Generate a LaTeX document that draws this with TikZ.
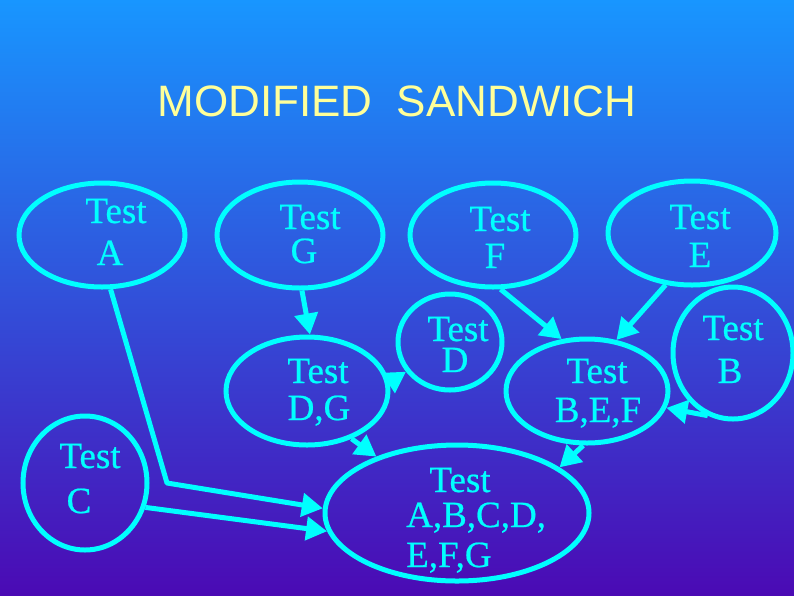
\documentclass[tikz,border=0pt]{standalone}
\usepackage{fontspec}
\setmainfont{Liberation Serif}
\newfontfamily\lblfont[FakeBold=0.6]{Liberation Serif}
\newfontfamily\titlefont{Liberation Sans}
\usetikzlibrary{shapes.geometric,arrows.meta}
\definecolor{cy}{RGB}{0,255,255}
\definecolor{ttl}{RGB}{255,255,153}
\definecolor{bgtop}{RGB}{24,150,255}
\definecolor{bgmid}{RGB}{58,95,222}
\definecolor{bgbot}{RGB}{75,10,180}
\begin{document}
\begin{tikzpicture}[x=1pt,y=-1pt,
 ov/.style={ellipse,draw=cy,line width=5pt,inner sep=0pt},
 lbl/.style={text=cy,font=\lblfont\fontsize{37}{37}\selectfont,anchor=base,inner sep=0pt},
 conn/.style={draw=cy,line width=5pt,line join=round,-{Triangle[length=21pt,width=23pt]}}]
\shade[top color=bgtop,middle color=bgmid,bottom color=bgbot] (0,0) rectangle (794,595);
\useasboundingbox (0,0) rectangle (794,595);

\node[text=ttl,font=\titlefont\fontsize{44}{44}\selectfont,anchor=base,inner sep=0pt] (title) at (397,116) {MODIFIED\ \ SANDWICH};

% ellipses
\node[ov,minimum width=166pt,minimum height=104pt] (a) at (102,235) {};
\node[ov,minimum width=166pt,minimum height=106pt] (g) at (300,235) {};
\node[ov,minimum width=166pt,minimum height=104pt] (f) at (493,235) {};
\node[ov,minimum width=168pt,minimum height=104pt] (e) at (692,233) {};
\node[ov,minimum width=104pt,minimum height=96pt] (d) at (450,342) {};
\node[ov,minimum width=162pt,minimum height=108pt] (dg) at (307,391) {};
\node[ov,minimum width=162pt,minimum height=104pt] (bef) at (587,391) {};
\node[ov,minimum width=120pt,minimum height=132pt] (b) at (733,353) {};
\node[ov,minimum width=124pt,minimum height=134pt] (c) at (85,483) {};
\node[ov,minimum width=264pt,minimum height=136pt] (all) at (457,513) {};

% labels
\node[lbl] (ta1) at (116,223) {Test};
\node[lbl] (ta2) at (110,265) {A};
\node[lbl] (tg1) at (310,229) {Test};
\node[lbl] (tg2) at (304,263) {G};
\node[lbl] (tf1) at (500,231) {Test};
\node[lbl] (tf2) at (495,268) {F};
\node[lbl] (te1) at (700,229) {Test};
\node[lbl] (te2) at (700,267) {E};
\node[lbl] (td1) at (458,341) {Test};
\node[lbl] (td2) at (455,372) {D};
\node[lbl] (tdg1) at (318,383) {Test};
\node[lbl] (tdg2) at (319,420) {D,G};
\node[lbl] (tbef1) at (597,383) {Test};
\node[lbl] (tbef2) at (598,422) {B,E,F};
\node[lbl] (tb1) at (733,340) {Test};
\node[lbl] (tb2) at (730,383) {B};
\node[lbl] (tc1) at (90,468) {Test};
\node[lbl] (tc2) at (79,513) {C};
\node[lbl] (tall1) at (460,492) {Test};
\node[lbl,anchor=base west] (tall2) at (406,527) {A,B,C,D,};
\node[lbl,anchor=base west] (tall3) at (406,567) {E,F,G};

% connectors
\coordinate (bend) at (167,483);
\draw[conn] (g.-88) -- (dg.87);
\draw[conn] (a.-81) -- (bend) -- (all.178);
\draw[conn] (c.-22) -- (all.-172);
\draw[conn] (dg.-47) -- (all.145);
\draw[conn] (dg.6) -- (d.-146);
\draw[conn] (f.-82) -- (bef.116);
\draw[conn] (e.-117) -- (bef.60);
\draw[conn] (b.-112) -- (bef.-12);
\draw[conn] (bef.-94) -- (all.24);
\end{tikzpicture}
\end{document}
